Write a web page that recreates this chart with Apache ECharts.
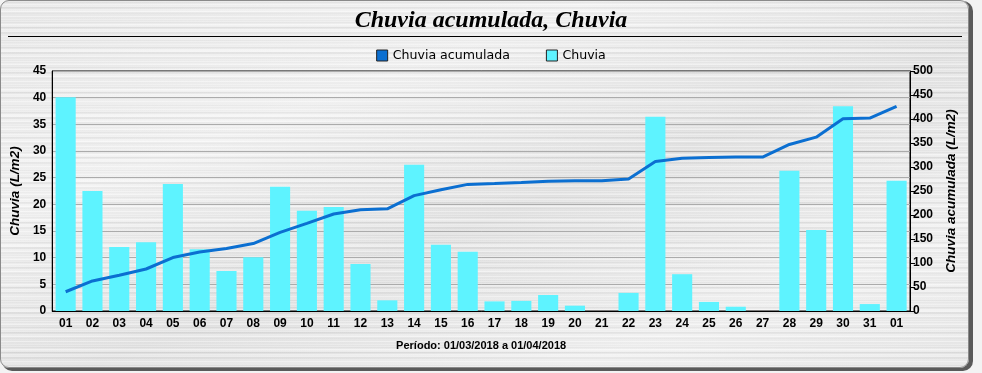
<!DOCTYPE html>
<html>
<head>
<meta charset="utf-8">
<script src="https://cdn.jsdelivr.net/npm/echarts@6/dist/echarts.min.js"></script>
<style>
html,body{margin:0;padding:0;background:#f3f3f3;}
#panel{position:absolute;left:0;top:0;width:967px;height:366px;border:1px solid #8a8a8a;border-radius:9px;
box-shadow:3px 2px 0 1px #5a5a5a;overflow:hidden;
background:
repeating-linear-gradient(180deg, rgba(255,255,255,0.6) 0px, rgba(255,255,255,0.0) 1px, rgba(0,0,0,0.05) 2px, rgba(255,255,255,0.35) 3px, rgba(0,0,0,0.0) 5px),
repeating-linear-gradient(180deg, rgba(0,0,0,0.05) 0px, rgba(255,255,255,0.25) 3px, rgba(0,0,0,0.03) 7px, rgba(255,255,255,0.45) 11px, rgba(0,0,0,0.04) 13px),
linear-gradient(160deg,#e8e8e8 0%,#f2f2f2 30%,#e0e0e0 55%,#f0f0f0 80%,#e6e6e6 100%);}
#chart{position:absolute;left:0;top:0;width:982px;height:373px;}
</style>
</head>
<body>
<div id="panel"></div>
<div id="chart"></div>
<script>
const categories = ['01','02','03','04','05','06','07','08','09','10','11','12','13','14','15','16','17','18','19','20','21','22','23','24','25','26','27','28','29','30','31','01'];
const chuvia = [40.1,22.5,12.0,12.9,23.8,11.6,7.5,10.1,23.3,18.8,19.5,8.8,2.0,27.4,12.4,11.1,1.8,1.9,3.0,1.0,0,3.4,36.4,6.9,1.7,0.8,0,26.3,15.2,38.4,1.3,24.4];
const chuviaAcumulada = [40.1,62.6,74.6,87.5,111.3,122.9,130.4,140.5,163.8,182.6,202.1,210.9,212.9,240.3,252.7,263.8,265.6,267.5,270.5,271.5,271.5,274.9,311.3,318.2,319.9,320.7,320.7,347.0,362.2,400.6,401.9,426.3];
const leftTicks = [0,45,5];
const rightTicks = [0,500,50];

const chart = echarts.init(document.getElementById('chart'));
const axisLabelFont = {fontFamily:'"Liberation Sans Narrow", "Liberation Sans"',fontWeight:'bold',fontSize:12,color:'#000'};
const nameFont = {fontFamily:'Liberation Sans',fontWeight:'bold',fontStyle:'italic',fontSize:13.5,color:'#000'};
chart.setOption({
  animation:false,
  backgroundColor:'transparent',
  title:{text:'Chuvia acumulada, Chuvia',left:'center',top:4,
    textStyle:{fontFamily:'Liberation Serif',fontStyle:'italic',fontWeight:'bold',fontSize:24,color:'#000'}},
  graphic:[{type:'line',shape:{x1:8,y1:36.5,x2:962,y2:36.5},style:{stroke:'#000',lineWidth:1}}],
  legend:{top:44,left:'center',itemWidth:11,itemHeight:11,itemGap:36,
    textStyle:{fontFamily:'DejaVu Sans',fontSize:12.6,color:'#000'},
    data:[
      {name:'Chuvia acumulada',icon:'rect',itemStyle:{color:'#0b6fd1',borderColor:'#222',borderWidth:1}},
      {name:'Chuvia',icon:'rect',itemStyle:{color:'#5ef3ff',borderColor:'#222',borderWidth:1}}
    ]},
  grid:{left:52,right:72,top:71,bottom:62,show:true,borderColor:'#000',borderWidth:1,backgroundColor:'transparent'},
  xAxis:{type:'category',data:categories,
    name:'Período: 01/03/2018 a 01/04/2018',nameLocation:'middle',nameGap:29,nameTextStyle:{fontFamily:'Liberation Sans',fontWeight:'bold',fontSize:11,color:'#000'},
    axisLine:{lineStyle:{color:'#000'}},
    axisTick:{alignWithLabel:true,length:4,lineStyle:{color:'#000'}},
    axisLabel:Object.assign({interval:0,margin:7},axisLabelFont)},
  yAxis:[
    {type:'value',min:leftTicks[0],max:leftTicks[1],interval:leftTicks[2],position:'left',
      name:'Chuvia (L/m2)',nameLocation:'middle',nameGap:22,nameRotate:90,nameTextStyle:nameFont,
      axisLine:{show:true,lineStyle:{color:'#000'}},axisTick:{show:false},
      axisLabel:Object.assign({margin:6},axisLabelFont),
      splitLine:{lineStyle:{color:'#ababab'}}},
    {type:'value',min:rightTicks[0],max:rightTicks[1],interval:rightTicks[2],position:'right',
      name:'Chuvia acumulada (L/m2)',nameLocation:'middle',nameGap:33,nameRotate:90,nameTextStyle:nameFont,
      axisLine:{show:true,lineStyle:{color:'#000'}},axisTick:{show:true,length:5,lineStyle:{color:'#000'}},
      axisLabel:Object.assign({margin:3},axisLabelFont),
      splitLine:{show:false}}
  ],
  series:[
    {name:'Chuvia',type:'bar',yAxisIndex:0,data:chuvia,barCategoryGap:'25%',itemStyle:{color:'#5ef3ff'},z:2},
    {name:'Chuvia acumulada',type:'line',yAxisIndex:1,data:chuviaAcumulada,showSymbol:false,symbol:'none',
      lineStyle:{color:'#0b6fd1',width:3},itemStyle:{color:'#0b6fd1'},z:3}
  ]
});
</script>
</body>
</html>
